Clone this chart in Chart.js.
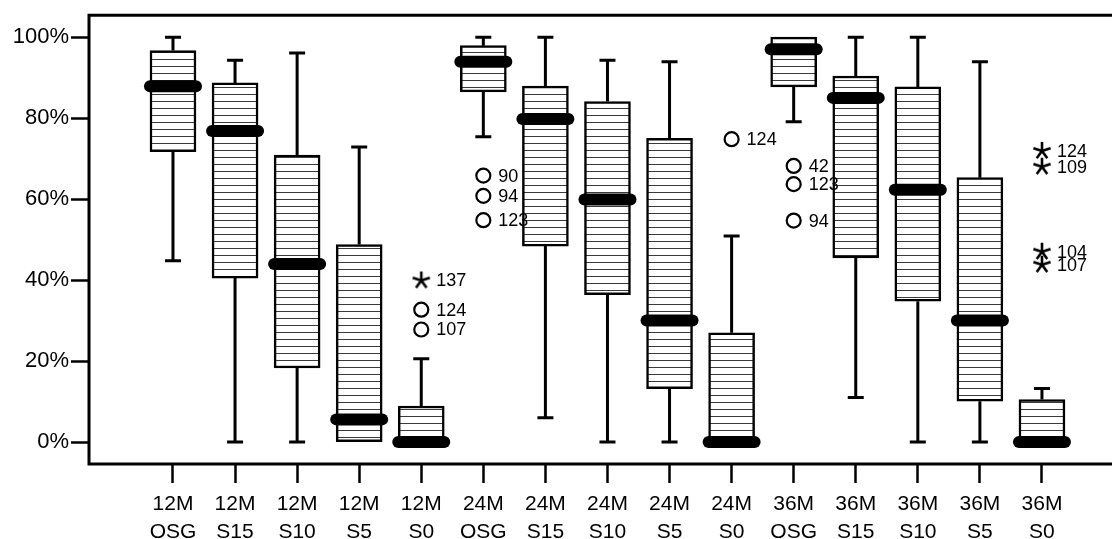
<!DOCTYPE html>
<html>
<head>
<meta charset="utf-8">
<script src="https://cdn.jsdelivr.net/npm/chart.js@4"></script>
<style>
  html, body { margin: 0; padding: 0; background: #fff; }
  canvas { display: block; }
</style>
</head>
<body>
<canvas id="grafico" width="1112" height="539"></canvas>
<script>
// Grupos (tiempo + tratamiento)
const categorias = ['12M OSG', '12M S15', '12M S10', '12M S5', '12M S0',
                    '24M OSG', '24M S15', '24M S10', '24M S5', '24M S0',
                    '36M OSG', '36M S15', '36M S10', '36M S5', '36M S0'];

// Estadísticos de cada caja (%)
const bigoteInf = [44.8, 0, 0, 0, 0, 75.4, 6.0, 0, 0, 0, 79.1, 11.0, 0, 0, 0];
const cuartil1  = [71.7, 40.5, 18.3, 0, 0, 86.5, 48.4, 36.4, 13.2, 0, 87.7, 45.5, 34.8, 10.1, 0];
const mediana   = [87.9, 76.8, 44.0, 5.6, 0, 93.9, 79.8, 59.9, 30.0, 0, 97.0, 85.0, 62.3, 30.0, 0];
const cuartil3  = [96.7, 88.7, 70.9, 48.8, 8.9, 97.9, 87.9, 84.1, 75.0, 27.0, 100, 90.4, 87.7, 65.3, 10.5];
const bigoteSup = [100, 94.3, 96.1, 72.9, 20.6, 100, 100, 94.3, 93.9, 50.9, 100, 100, 100, 93.9, 13.2];

// Valores atípicos (círculos)
const atipicoGrupo = [4, 4, 5, 5, 5, 9, 10, 10, 10];
const atipicoValor = [32.7, 27.8, 65.8, 60.8, 54.8, 74.8, 68.2, 63.7, 54.7];
const atipicoCaso  = ['124', '107', '90', '94', '123', '124', '42', '123', '94'];

// Valores extremos (asteriscos)
const extremoGrupo = [4, 14, 14, 14, 14];
const extremoValor = [39.9, 71.9, 68.0, 47.0, 43.8];
const extremoCaso  = ['137', '124', '109', '104', '107'];

const ticksY = [0, 20, 40, 60, 80, 100];

const FUENTE = 'Arial, "Liberation Sans", sans-serif';
const PX_POR_GRUPO = 62.07; // separación entre cajas
const X_MIN = -1.353;

// Relleno de rayas horizontales para las cajas
function crearRayado() {
    const c = document.createElement('canvas');
    c.width = 8;
    c.height = 7;
    const g = c.getContext('2d');
    g.fillStyle = '#fff';
    g.fillRect(0, 0, 8, 7);
    g.fillStyle = '#3a3a3a';
    g.fillRect(0, 3, 8, 1);
    return g.createPattern(c, 'repeat');
}

// Asterisco de cinco brazos para los extremos
function crearAsterisco() {
    const c = document.createElement('canvas');
    c.width = 20;
    c.height = 20;
    const g = c.getContext('2d');
    g.strokeStyle = '#000';
    g.lineWidth = 2.6;
    for (let k = 0; k < 5; k++) {
        const a = -Math.PI / 2 + k * 2 * Math.PI / 5;
        g.beginPath();
        g.moveTo(10, 10);
        g.lineTo(10 + 9 * Math.cos(a), 10 + 9 * Math.sin(a));
        g.stroke();
    }
    return c;
}

// Bigotes, medianas, etiquetas de casos y marco
const pluginCajas = {
    id: 'cajas',
    beforeDatasetsDraw(chart) {
        const { ctx, scales: { x, y } } = chart;
        ctx.save();
        ctx.strokeStyle = '#000';
        ctx.lineWidth = 3;
        categorias.forEach((_, i) => {
            const cx = x.getPixelForValue(i);
            const tramos = [[cuartil3[i], bigoteSup[i]], [cuartil1[i], bigoteInf[i]]];
            tramos.forEach(([desde, hasta]) => {
                if (hasta === desde) return;
                const y0 = y.getPixelForValue(desde);
                const y1 = y.getPixelForValue(hasta);
                ctx.beginPath();
                ctx.moveTo(cx, y0);
                ctx.lineTo(cx, y1);
                ctx.moveTo(cx - 8, y1);
                ctx.lineTo(cx + 8, y1);
                ctx.stroke();
            });
        });
        ctx.restore();
    },
    afterDatasetsDraw(chart) {
        const { ctx, chartArea, scales: { x, y } } = chart;
        ctx.save();
        // medianas
        ctx.strokeStyle = '#000';
        ctx.lineWidth = 12;
        ctx.lineCap = 'round';
        categorias.forEach((_, i) => {
            const cx = x.getPixelForValue(i);
            const my = y.getPixelForValue(mediana[i]);
            ctx.beginPath();
            ctx.moveTo(cx - 23, my);
            ctx.lineTo(cx + 23, my);
            ctx.stroke();
        });

        // números de caso junto a cada punto
        ctx.fillStyle = '#000';
        ctx.font = '18px ' + FUENTE;
        ctx.textAlign = 'left';
        ctx.textBaseline = 'middle';
        [[1, atipicoCaso], [2, extremoCaso]].forEach(([idx, casos]) => {
            chart.getDatasetMeta(idx).data.forEach((pt, j) => {
                ctx.fillText(casos[j], pt.x + 15, pt.y + 1);
            });
        });

        // marco del gráfico (sin lado derecho)
        ctx.lineWidth = 3;
        ctx.lineCap = 'square';
        ctx.beginPath();
        ctx.moveTo(chart.width + 2, chartArea.top);
        ctx.lineTo(chartArea.left, chartArea.top);
        ctx.lineTo(chartArea.left, chartArea.bottom);
        ctx.lineTo(chart.width + 2, chartArea.bottom);
        ctx.stroke();
        ctx.restore();
    }
};

const ctx = document.getElementById('grafico').getContext('2d');
const grafico = new Chart(ctx, {
    data: {
        datasets: [
            {
                type: 'bar',
                data: categorias.map((c, i) => ({ x: i, y: [cuartil1[i], cuartil3[i]] })),
                backgroundColor: crearRayado(),
                borderColor: '#000',
                borderWidth: 2.5,
                borderSkipped: false,
                barThickness: 46,
                order: 3,
            },
            {
                type: 'scatter',
                data: atipicoGrupo.map((g, j) => ({ x: g, y: atipicoValor[j] })),
                pointStyle: 'circle',
                pointRadius: 7,
                pointBorderWidth: 2.2,
                pointBorderColor: '#000',
                pointBackgroundColor: 'rgba(255,255,255,0)',
                order: 1,
            },
            {
                type: 'scatter',
                data: extremoGrupo.map((g, j) => ({ x: g, y: extremoValor[j] })),
                pointStyle: crearAsterisco(),
                pointRadius: 9,
                order: 1,
            },
        ],
    },
    options: {
        responsive: false,
        animation: false,
        devicePixelRatio: 1,
        layout: { padding: { top: 14, right: 0, left: 0, bottom: 0 } },
        plugins: {
            legend: { display: false },
            tooltip: { enabled: false },
        },
        scales: {
            x: {
                type: 'linear',
                position: 'bottom',
                min: X_MIN,
                max: 15.128,
                offset: false,
                afterBuildTicks: (scale) => {
                    scale.ticks = categorias.map((c, i) => ({ value: i }));
                },
                afterFit: (scale) => {
                    scale.height = 75;
                    scale.paddingLeft = 0;
                    scale.paddingRight = 0;
                },
                border: { display: false },
                grid: {
                    display: true,
                    offset: false,
                    drawOnChartArea: false,
                    drawTicks: true,
                    tickLength: 19,
                    tickWidth: 2.5,
                    color: '#000',
                },
                ticks: {
                    autoSkip: false,
                    maxRotation: 0,
                    color: '#000',
                    padding: 8,
                    font: { family: FUENTE, size: 21, lineHeight: 1.3 },
                    callback: (v) => categorias[v] ? categorias[v].split(' ') : '',
                },
            },
            y: {
                type: 'linear',
                min: -5.42,
                max: 105.42,
                afterBuildTicks: (scale) => {
                    scale.ticks = ticksY.map((v) => ({ value: v }));
                },
                afterFit: (scale) => {
                    scale.width = 89;
                },
                border: { display: false },
                grid: {
                    display: true,
                    drawOnChartArea: false,
                    drawTicks: true,
                    tickLength: 18,
                    tickWidth: 2.5,
                    color: '#000',
                },
                ticks: {
                    color: '#000',
                    padding: 2,
                    font: { family: FUENTE, size: 22 },
                    callback: (v) => v + '%',
                },
            },
        },
    },
    plugins: [pluginCajas],
});

// Ajustar el máximo del eje X para mantener la separación entre cajas
const area = grafico.chartArea;
grafico.options.scales.x.max = X_MIN + (area.right - area.left) / PX_POR_GRUPO;
grafico.update();
</script>
</body>
</html>
